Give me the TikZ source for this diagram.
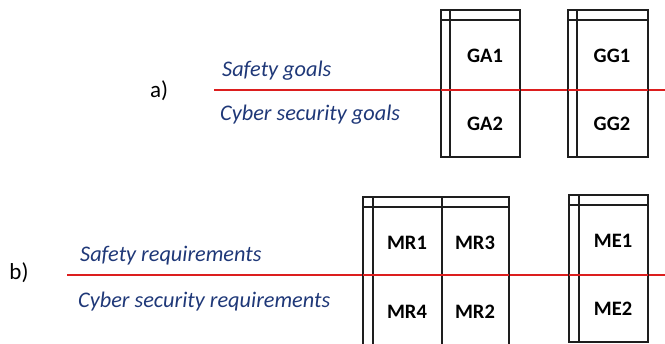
\documentclass[tikz,border=0pt]{standalone}
\usepackage{fontspec}
\setmainfont{Carlito}
\definecolor{labelblue}{RGB}{31,56,120}
\definecolor{splitred}{RGB}{220,30,30}
\definecolor{boxline}{RGB}{30,30,30}
\tikzset{
  catlabel/.style={anchor=base west, inner sep=0pt, text=labelblue, font=\fontsize{22.3}{26}\selectfont\itshape},
  partlabel/.style={anchor=center, inner sep=0pt, font=\fontsize{23}{26}\selectfont},
  cell/.style={anchor=center, inner sep=0pt, font=\fontsize{20.5}{24}\selectfont\bfseries},
  frame/.style={draw=boxline, line width=1.4pt},
  split/.style={draw=splitred, line width=1.8pt},
}
\begin{document}
\begin{tikzpicture}[x=1pt,y=-1pt]
\useasboundingbox (0,0) rectangle (665,344);
\clip (0,0) rectangle (665,344);

% ---- a) goals ----
\node[partlabel] (pa) at (159,91) {a)};
\coordinate (ga-start) at (214,90);
\coordinate (ga-end) at (665,90);
\draw[split] (ga-start) -- (ga-end);
\node[catlabel] (sg) at (222,77) {Safety goals};
\node[catlabel] (csg) at (220,121) {Cyber security goals};

% goal box GA
\draw[frame] (441,10) rectangle (520,157);
\draw[frame] (450,10) -- (450,157);
\draw[frame] (441,20) -- (520,20);
% goal box GG
\draw[frame] (568,10) rectangle (648,157);
\draw[frame] (577,10) -- (577,157);
\draw[frame] (568,20) -- (648,20);
\draw[split] (441,90) -- (520,90);
\draw[split] (568,90) -- (648,90);

\node[cell] (ga1) at (485,56) {GA1};
\node[cell] (ga2) at (485,124) {GA2};
\node[cell] (gg1) at (612,56) {GG1};
\node[cell] (gg2) at (612,124) {GG2};

% ---- b) requirements ----
\node[partlabel] (pb) at (19,273) {b)};
\coordinate (rb-start) at (67,275);
\coordinate (rb-end) at (665,275);
\draw[split] (rb-start) -- (rb-end);
\node[catlabel] (sr) at (80,262) {Safety requirements};
\node[catlabel] (csr) at (78,308) {Cyber security requirements};

% requirement box MR (runs past the lower edge)
\draw[frame] (363,350) -- (363,197) -- (509,197) -- (509,350);
\draw[frame] (373,197) -- (373,350);
\draw[frame] (442,197) -- (442,350);
\draw[frame] (363,207) -- (509,207);
% requirement box ME
\draw[frame] (569,195) rectangle (648,342);
\draw[frame] (579,195) -- (579,342);
\draw[frame] (569,205) -- (648,205);
\draw[split] (363,275) -- (509,275);
\draw[split] (569,275) -- (648,275);

\node[cell] (mr1) at (407,243) {MR1};
\node[cell] (mr3) at (475,243) {MR3};
\node[cell] (mr4) at (407,312) {MR4};
\node[cell] (mr2) at (475,312) {MR2};
\node[cell] (me1) at (613,241) {ME1};
\node[cell] (me2) at (613,309) {ME2};
\end{tikzpicture}
\end{document}
